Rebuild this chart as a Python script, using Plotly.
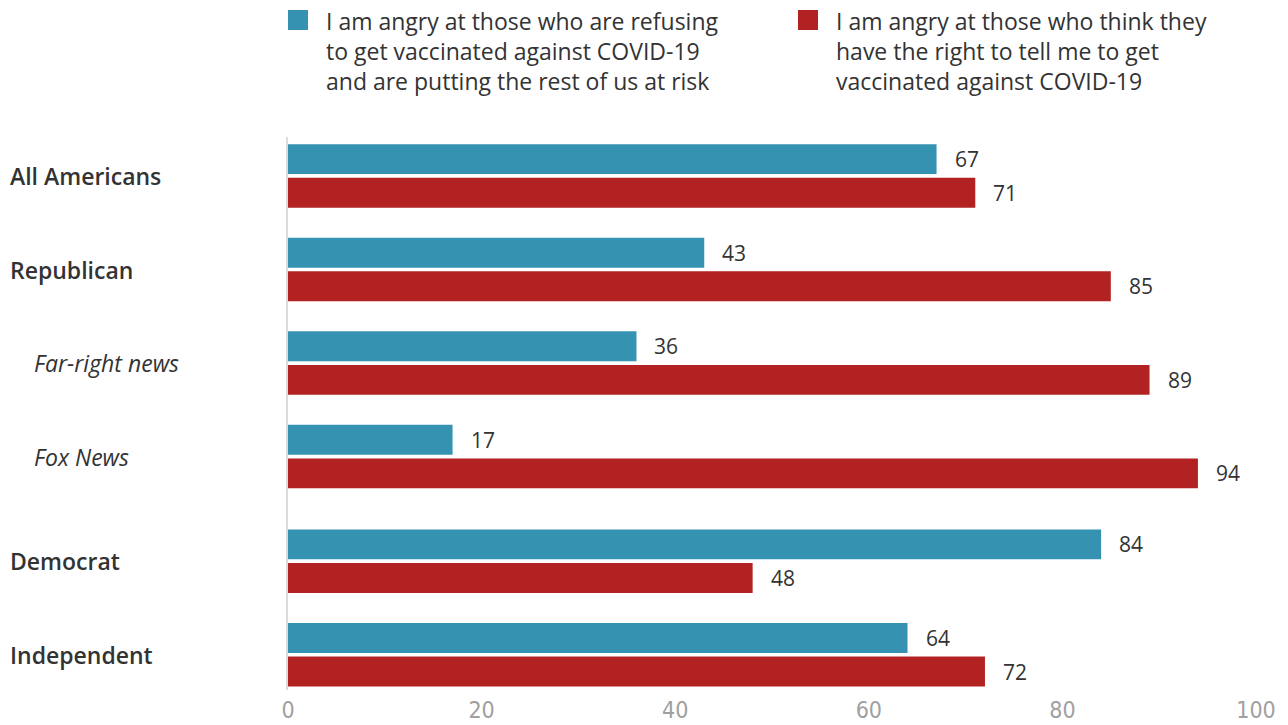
import plotly.graph_objects as go

categories = ["All Americans", "Republican", "Far-right news", "Fox News", "Democrat", "Independent"]
italic_flags = [False, False, True, True, False, False]
refusing_vals = [67, 43, 36, 17, 84, 64]
telling_vals = [71, 85, 89, 94, 48, 72]
series_names = [
    "I am angry at those who are refusing<br>to get vaccinated against COVID-19<br>and are putting the rest of us at risk",
    "I am angry at those who think they<br>have the right to tell me to get<br>vaccinated against COVID-19",
]
colors = ["#3592b0", "#b22222"]
x_ticks = [0, 20, 40, 60, 80, 100]

# layout geometry
W, H = 1288, 725
ML, MR, MT, MB = 288, 32, 137, 35
PW, PH = W - ML - MR, H - MT - MB
positions = [0, 1, 2, 3, 4.12, 5.12]  # group slots (extra gap before party groups)
BAR_W = 0.32

def px_x(p):
    return (p - ML) / PW

def px_y(p):
    return (H - MB - p) / PH

fig = go.Figure()
fig.add_trace(go.Bar(
    y=positions, x=refusing_vals, orientation="h", width=BAR_W, offset=-0.34,
    marker=dict(color=colors[0], line=dict(width=0)), showlegend=False, hoverinfo="x",
))
fig.add_trace(go.Bar(
    y=positions, x=telling_vals, orientation="h", width=BAR_W, offset=0.02,
    marker=dict(color=colors[1], line=dict(width=0)), showlegend=False, hoverinfo="x",
))

annotations = []
val_font = dict(family="Open Sans", size=21, color="#333333")
for pos, v in zip(positions, refusing_vals):
    annotations.append(dict(x=v, y=pos - 0.18, xref="x", yref="y", text=str(v), showarrow=False,
                            xanchor="left", yanchor="middle", xshift=16, font=val_font))
for pos, v in zip(positions, telling_vals):
    annotations.append(dict(x=v, y=pos + 0.18, xref="x", yref="y", text=str(v), showarrow=False,
                            xanchor="left", yanchor="middle", xshift=16, font=val_font))
# category labels
for pos, cat, it in zip(positions, categories, italic_flags):
    annotations.append(dict(
        x=px_x(32 if it else 8), y=pos, xref="paper", yref="y", text=cat, showarrow=False,
        xanchor="left", yanchor="middle",
        font=dict(family="Open Sans", size=23, color="#333333",
                  style="italic" if it else "normal", weight=400 if it else 600)))
# legend
leg_x_text = [324, 834]
leg_x_box = [288, 798]
shapes = []
for name, col, xt, xb in zip(series_names, colors, leg_x_text, leg_x_box):
    annotations.append(dict(x=px_x(xt), y=px_y(3), xref="paper", yref="paper", text=name,
                            showarrow=False, xanchor="left", yanchor="top", align="left",
                            font=dict(family="Open Sans", size=23, color="#333333")))
    shapes.append(dict(type="rect", xref="paper", yref="paper",
                       x0=px_x(xb), x1=px_x(xb + 20), y0=px_y(30), y1=px_y(10),
                       fillcolor=col, line=dict(width=0)))

fig.update_layout(
    width=W, height=H,
    margin=dict(l=ML, r=MR, t=MT, b=MB, autoexpand=False),
    plot_bgcolor="white", paper_bgcolor="white",
    barmode="overlay",
    annotations=annotations, shapes=shapes,
    xaxis=dict(range=[0, 100], tickvals=x_ticks, showgrid=False, zeroline=False, showline=False,
               ticks="", ticklabelstandoff=4, automargin=False,
               tickfont=dict(family="Liberation Sans Narrow, DejaVu Sans Condensed, Open Sans",
                             size=23, color="#a0a0a0")),
    yaxis=dict(range=[5.497, -0.417], showgrid=False, zeroline=False, showticklabels=False,
               showline=True, linecolor="#dcdcdc", linewidth=2, ticks="", automargin=False),
)

fig.write_html("out.html", config={"displayModeBar": False},
               post_script="document.body.style.margin='0';")
